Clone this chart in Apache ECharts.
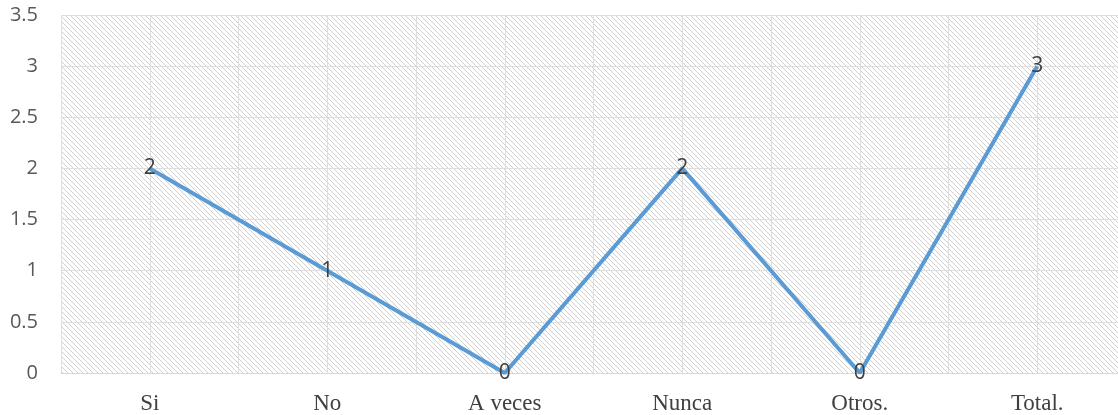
<!DOCTYPE html>
<html>
<head>
<meta charset="utf-8">
<script src="https://cdn.jsdelivr.net/npm/echarts@6/dist/echarts.min.js"></script>
<style>
  html, body { margin: 0; padding: 0; overflow: hidden; background: #fff; }
  #chart { width: 1126px; height: 415px; }
</style>
</head>
<body>
<div id="chart"></div>
<script>
  var categories = ['Si', 'No', 'A veces', 'Nunca', 'Otros.', 'Total.']
  var values = [2, 1, 0, 2, 0, 3]
  // half-category slots, only used to draw the vertical gridlines
  var halfSlots = ['', '', '', '', '', '', '', '', '', '', '', '']

  // diagonal hatch for the plot area
  function hatch() {
    var n = 5
    var c = document.createElement('canvas')
    c.width = n
    c.height = n
    var ctx = c.getContext('2d')
    ctx.fillStyle = '#ffffff'
    ctx.fillRect(0, 0, n, n)
    ctx.fillStyle = '#d0d0d0'
    for (var i = 0; i < n; i++) {
      ctx.fillRect(i, i, 1, 1)
    }
    return c
  }

  var chart = echarts.init(document.getElementById('chart'))
  chart.setOption({
    animation: false,
    grid: {
      left: 61,
      right: 0,
      top: 15,
      bottom: 42,
      show: true,
      borderWidth: 0,
      backgroundColor: { image: hatch(), repeat: 'repeat' }
    },
    xAxis: [
      {
        type: 'category',
        data: categories,
        boundaryGap: true,
        axisTick: { show: false },
        axisLine: { lineStyle: { color: '#d9d9d9', width: 1 } },
        splitLine: { show: false },
        axisLabel: {
          margin: 19,
          color: '#404040',
          fontFamily: 'Liberation Serif',
          fontSize: 23
        }
      },
      {
        type: 'category',
        data: halfSlots,
        position: 'bottom',
        boundaryGap: true,
        axisTick: { show: false },
        axisLine: { show: false },
        axisLabel: { show: false },
        splitLine: { show: true, interval: 0, lineStyle: { color: '#dedede', width: 1 } }
      }
    ],
    yAxis: {
      type: 'value',
      min: 0,
      max: 3.5,
      interval: 0.5,
      axisLine: { show: false },
      axisTick: { show: false },
      splitLine: { lineStyle: { color: '#dedede', width: 1 } },
      axisLabel: {
        margin: 23,
        color: '#595959',
        fontFamily: 'Open Sans',
        fontSize: 20
      }
    },
    series: [
      {
        type: 'line',
        data: values,
        symbol: 'circle',
        symbolSize: 1,
        itemStyle: { color: 'rgba(0,0,0,0)' },
        lineStyle: { color: '#5b9bd5', width: 4 },
        label: {
          show: true,
          position: 'inside',
          color: '#404040',
          fontFamily: 'Open Sans',
          fontSize: 21
        },
        z: 5
      }
    ]
  })
</script>
</body>
</html>
